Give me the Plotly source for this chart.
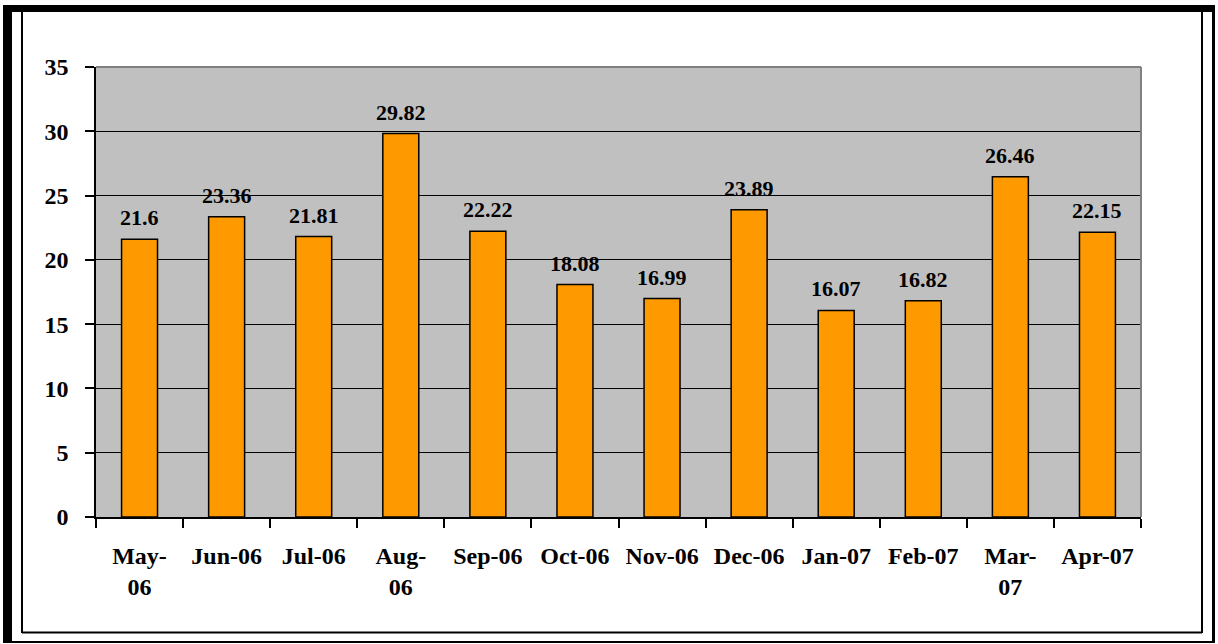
import plotly.graph_objects as go

# Monthly values
months = ["May-06", "Jun-06", "Jul-06", "Aug-06", "Sep-06", "Oct-06",
          "Nov-06", "Dec-06", "Jan-07", "Feb-07", "Mar-07", "Apr-07"]
tick_labels = ["May-<br>06", "Jun-06", "Jul-06", "Aug-<br>06", "Sep-06", "Oct-06",
               "Nov-06", "Dec-06", "Jan-07", "Feb-07", "Mar-<br>07", "Apr-07"]
values = [21.6, 23.36, 21.81, 29.82, 22.22, 18.08,
          16.99, 23.89, 16.07, 16.82, 26.46, 22.15]
value_labels = ["21.6", "23.36", "21.81", "29.82", "22.22", "18.08",
                "16.99", "23.89", "16.07", "16.82", "26.46", "22.15"]
y_ticks = [0, 5, 10, 15, 20, 25, 30, 35]

W, H = 1218, 644
L, R, T, B = 96, 1141, 67, 517  # plot area in pixels

def px_x(px):
    return (px - L) / (R - L)

def px_y(py):
    return (B - py) / (B - T)

SERIF = "Liberation Serif, Times New Roman, serif"

fig = go.Figure(go.Bar(
    x=months,
    y=values,
    marker=dict(color="#FF9900", line=dict(color="black", width=1.5)),
    hoverinfo="x+y",
))

# value labels above each bar
annotations = [
    dict(x=m, y=v, xref="x", yref="y", text=t, showarrow=False,
         yanchor="bottom", yshift=7,
         font=dict(family=SERIF, size=22, color="black", weight="bold"))
    for m, v, t in zip(months, values, value_labels)
]

def rect(x0, y0, x1, y1, color="black"):
    return dict(type="rect", xref="paper", yref="paper",
                x0=px_x(x0), x1=px_x(x1), y0=px_y(y0), y1=px_y(y1),
                fillcolor=color, line=dict(width=0), layer="above")

def line(x0, y0, x1, y1, color, width):
    return dict(type="line", xref="paper", yref="paper",
                x0=px_x(x0), x1=px_x(x1), y0=px_y(y0), y1=px_y(y1),
                line=dict(color=color, width=width), layer="above")

shapes = [
    # outer frame
    rect(3, 5, 12, 643),
    rect(3, 5, 1215, 12),
    rect(1212, 5, 1215, 643),
    rect(3, 641, 1215, 643),
    # inner frame
    line(22, 12, 22, 633, "black", 2),
    line(1202, 12, 1202, 633, "black", 2),
    line(22, 632.5, 1202, 632.5, "black", 2),
    # plot area top/right border
    line(96, 67, 1141, 67, "#808080", 2),
    line(1141, 67, 1141, 517, "#808080", 2),
]

fig.update_layout(
    width=W, height=H,
    margin=dict(l=L, r=W - R, t=T, b=H - B),
    paper_bgcolor="white",
    plot_bgcolor="#C0C0C0",
    bargap=0.587,
    showlegend=False,
    shapes=shapes,
    annotations=annotations,
    font=dict(family=SERIF, color="black"),
)

fig.update_xaxes(
    type="category",
    tickmode="array",
    tickvals=months,
    ticktext=tick_labels,
    tickson="boundaries",
    ticks="outside",
    ticklen=9,
    tickwidth=1.5,
    tickcolor="black",
    showline=True,
    linecolor="black",
    linewidth=1.5,
    showgrid=False,
    tickfont=dict(family=SERIF, size=24, color="black", weight="bold"),
    ticklabelstandoff=16,
)

fig.update_yaxes(
    range=[0, 35],
    tickmode="array",
    tickvals=y_ticks,
    ticks="outside",
    ticklen=9,
    tickwidth=1.5,
    tickcolor="black",
    showline=True,
    linecolor="black",
    linewidth=1.5,
    showgrid=True,
    gridcolor="black",
    gridwidth=1,
    zeroline=False,
    tickfont=dict(family=SERIF, size=24, color="black", weight="bold"),
    ticklabelstandoff=12,
)

fig.write_html("out.html")
